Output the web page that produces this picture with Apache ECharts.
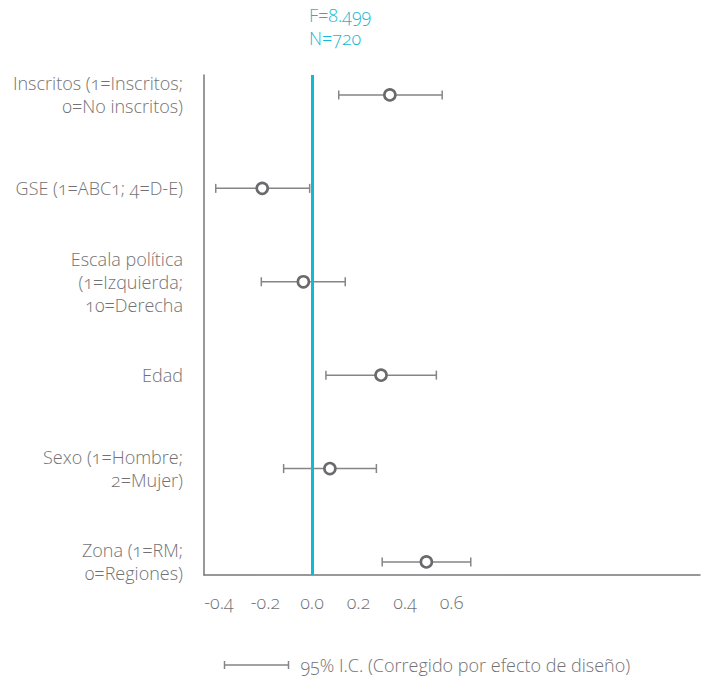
<!DOCTYPE html>
<html>
<head>
<meta charset="utf-8">
<script src="https://cdn.jsdelivr.net/npm/echarts@6/dist/echarts.min.js"></script>
<style>
  html, body { margin: 0; padding: 0; background: #fff; }
  #chart { width: 702px; height: 679px; }
  #chart svg text { font-variant-numeric: oldstyle-nums !important; font-feature-settings: "onum" 1 !important; }
</style>
</head>
<body>
<div id="chart"></div>
<script>
// Predictors (top to bottom)
const categories = [
  'Inscritos (1=Inscritos;\n0=No inscritos)',
  'GSE (1=ABC1; 4=D-E)',
  'Escala política\n(1=Izquierda;\n10=Derecha',
  'Edad',
  'Sexo (1=Hombre;\n2=Mujer)',
  'Zona (1=RM;\n0=Regiones)'
];
// Coefficient estimates and 95% interval bounds
const estimates = [0.335, -0.214, -0.037, 0.297, 0.077, 0.492];
const lower     = [0.115, -0.414, -0.218, 0.060, -0.122, 0.302];
const upper     = [0.560, -0.010, 0.143, 0.535, 0.277, 0.683];
// Labelled ticks on the coefficient axis
const xTicks = [-0.4, -0.2, 0.0, 0.2, 0.4, 0.6];
const statsText = ['F=8.499', 'N=720'];
const legendText = '95% I.C. (Corregido por efecto de diseño)';

const FONT = '"Open Sans", "Noto Sans", sans-serif';
const FS = 18;
const GREY = '#727274';
const CYAN = '#12b9d3';

const idx = categories.map((_, i) => i);
const pointData = estimates.map((v, i) => [v, i]);
const barData = idx.map(i => [i, lower[i], upper[i]]);

const chart = echarts.init(document.getElementById('chart'), null, { renderer: 'svg' });

chart.setOption({
  animation: false,
  textStyle: { fontFamily: FONT },
  title: {
    text: statsText.join('\n'),
    left: 304,
    top: -2,
    textStyle: { color: CYAN, fontSize: FS, fontWeight: 300, lineHeight: 23, fontFamily: FONT }
  },
  grid: { left: 204, right: 2, top: 75, bottom: 104 },
  xAxis: {
    type: 'value',
    min: -0.4645,
    max: 1.669,
    splitLine: { show: false },
    axisLine: { show: true, onZero: false, lineStyle: { color: '#77777a', width: 1.5 } },
    axisTick: { show: false },
    axisLabel: {
      customValues: xTicks,
      margin: 18,
      color: GREY,
      fontSize: FS,
      fontWeight: 300,
      fontFamily: FONT,
      formatter: v => (v < 0 ? '-' : '') + Math.abs(v).toFixed(1)
    }
  },
  yAxis: {
    type: 'value',
    inverse: true,
    min: -0.214,
    max: 5.14,
    splitLine: { show: false },
    axisLine: { show: true, onZero: false, lineStyle: { color: '#77777a', width: 1.5 } },
    axisTick: { show: false },
    axisLabel: {
      customValues: idx,
      margin: 21,
      color: GREY,
      fontSize: FS,
      fontWeight: 300,
      lineHeight: 23,
      align: 'right',
      fontFamily: FONT,
      formatter: v => categories[Math.round(v)]
    }
  },
  series: [
    {
      type: 'custom',
      data: barData,
      encode: { x: [1, 2], y: 0 },
      renderItem: (params, api) => {
        const y = api.value(0);
        const a = api.coord([api.value(1), y]);
        const b = api.coord([api.value(2), y]);
        const h = 4.5;
        const style = { stroke: '#858588', lineWidth: 1.5 };
        return {
          type: 'group',
          children: [
            { type: 'line', shape: { x1: a[0], y1: a[1], x2: b[0], y2: b[1] }, style },
            { type: 'line', shape: { x1: a[0], y1: a[1] - h, x2: a[0], y2: a[1] + h }, style },
            { type: 'line', shape: { x1: b[0], y1: b[1] - h, x2: b[0], y2: b[1] + h }, style }
          ]
        };
      },
      z: 2
    },
    {
      type: 'scatter',
      data: pointData,
      symbol: 'circle',
      symbolSize: 11,
      itemStyle: { color: '#fff', borderColor: '#6a6a6d', borderWidth: 2.6, opacity: 1 },
      z: 4,
      markLine: {
        silent: true,
        symbol: 'none',
        label: { show: false },
        lineStyle: { color: CYAN, width: 3, type: 'solid' },
        data: [{ xAxis: 0 }],
        z: 3
      }
    }
  ],
  graphic: [
    {
      type: 'group',
      left: 222,
      top: 656,
      children: [
        { type: 'line', shape: { x1: 0, y1: 6, x2: 64, y2: 6 }, style: { stroke: '#858588', lineWidth: 1.5 } },
        { type: 'line', shape: { x1: 0, y1: 2, x2: 0, y2: 10 }, style: { stroke: '#858588', lineWidth: 1.5 } },
        { type: 'line', shape: { x1: 64, y1: 2, x2: 64, y2: 10 }, style: { stroke: '#858588', lineWidth: 1.5 } },
        { type: 'text', x: 76, y: 6, style: { text: legendText, fill: GREY, font: '300 ' + FS + 'px ' + FONT, textVerticalAlign: 'middle' } }
      ]
    }
  ]
});
</script>
</body>
</html>
